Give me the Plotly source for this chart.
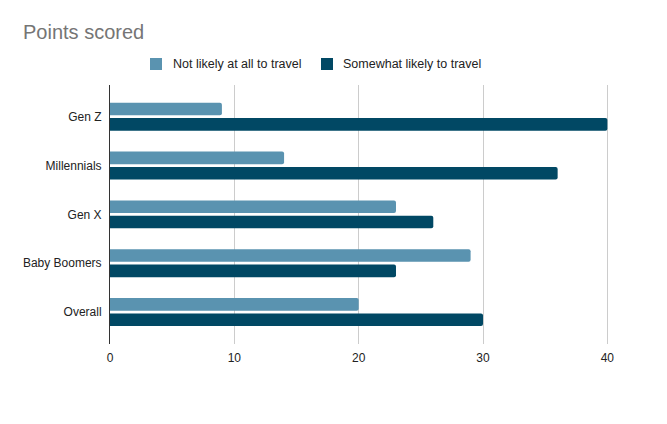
import plotly.graph_objects as go

categories = ["Gen Z", "Millennials", "Gen X", "Baby Boomers", "Overall"]
not_likely = [9, 14, 23, 29, 20]
somewhat_likely = [40, 36, 26, 23, 30]
series_names = ["Not likely at all to travel", "Somewhat likely to travel"]
colors = ["#5a93b0", "#014864"]

# page geometry (the page is drawn with an 8px body offset)
PL, PR, PT, PB = 110, 631, 85, 344
W, H = PR - PL, PB - PT

def px(x):
    return (x - PL) / W

def py(y):
    return (PB - y) / H

fig = go.Figure()
for vals, name, col in zip([not_likely, somewhat_likely], series_names, colors):
    fig.add_trace(go.Bar(y=categories, x=vals, orientation="h", name=name,
                         marker=dict(color=col, line=dict(width=0)), showlegend=False))

font_fam = "Liberation Sans, Arial, sans-serif"

# manual legend
leg = [(150, 162, 172, series_names[0], colors[0]),
       (321, 333, 342, series_names[1], colors[1])]
for x0, x1, tx, name, col in leg:
    fig.add_shape(type="rect", xref="paper", yref="paper", x0=px(x0), x1=px(x1),
                  y0=py(70), y1=py(58), fillcolor=col, line=dict(width=0), layer="above")
    fig.add_annotation(xref="paper", yref="paper", x=px(tx), y=py(64), xanchor="left",
                       yanchor="middle", text=name, showarrow=False, xshift=-1,
                       font=dict(family=font_fam, size=12.5, color="#222222"))

fig.update_layout(
    width=667, height=424,
    margin=dict(l=PL - 8, r=667 - (PR - 8), t=PT - 8, b=424 - (PB - 8)),
    paper_bgcolor="white", plot_bgcolor="white",
    font=dict(family=font_fam, size=12, color="#222222"),
    title=dict(text="Points scored", x=15/667, xanchor="left", y=1-24/424, yanchor="middle",
               font=dict(family=font_fam, size=20, color="#757575")),
    barmode="group", bargap=0.37, bargroupgap=0.18, barcornerradius=2,
    xaxis=dict(range=[0, 41.9], tickvals=[0, 10, 20, 30, 40], showgrid=True,
               gridcolor="#cccccc", gridwidth=1, zeroline=False, showline=False,
               ticks="", ticklabelstandoff=5, tickfont=dict(size=12, color="#222222")),
    yaxis=dict(categoryorder="array", categoryarray=categories,
               range=[4.655, -0.65], showgrid=False, zeroline=False,
               showline=True, linecolor="#333333", linewidth=1,
               ticks="", ticklabelstandoff=5, tickfont=dict(size=12, color="#222222")),
)
fig.write_html("out.html")
